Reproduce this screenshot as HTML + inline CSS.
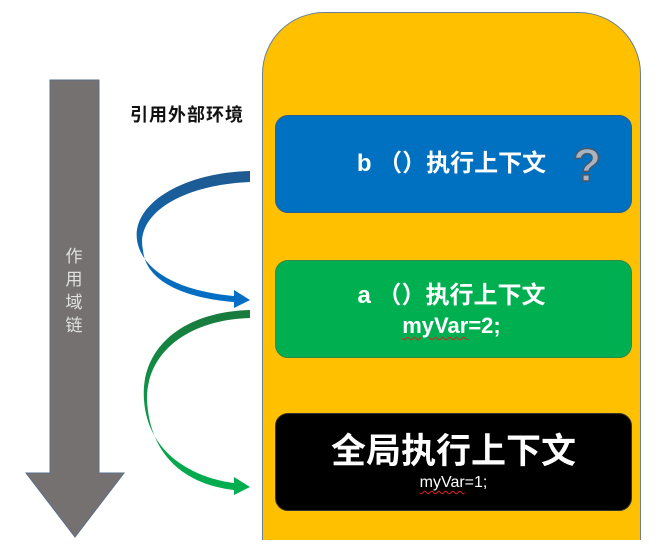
<!DOCTYPE html>
<html><head><meta charset="utf-8"><style>
body{margin:0;width:670px;height:554px;background:#fff;position:relative;overflow:hidden;font-family:"Liberation Sans","Noto Sans CJK SC",sans-serif}
.abs{position:absolute}
.cont{left:262px;top:12px;width:379px;height:528px;background:#ffc000;border:1px solid #6a7f9a;border-bottom:none;border-radius:62px 62px 0 0;box-sizing:border-box}
.box{left:275px;width:357px;height:98px;border-radius:13px;color:#fff;text-align:center;font-weight:bold;box-sizing:border-box}
.wavy{text-decoration:underline wavy #e02020;text-decoration-thickness:1px;text-underline-offset:3px}
</style></head><body>
<div class="abs cont"></div>
<div class="abs box" style="top:115px;background:#0070c0;border:1px solid #2a5d8f;font-size:24px;line-height:96px;padding-right:4px">b （）执行上下文</div>
<div class="abs" style="left:573px;top:138px;font-size:46px;font-weight:bold;color:#a9b4c2;-webkit-text-stroke:1.5px #4a5868;font-family:'Liberation Sans',sans-serif">?</div>
<div class="abs box" style="top:260px;background:#00b050;border:1px solid #2a8a4a;font-size:24px;line-height:30px;padding-top:20px;padding-right:4px">a （）执行上下文<br><span style="font-size:22px"><span class="wavy">myVar</span>=2;</span></div>
<div class="abs box" style="top:413px;background:#000;border:1px solid #333;padding-top:17px">
<div style="font-size:35px;line-height:42px">全局执行上下文</div>
<div style="font-size:16px;font-weight:normal;line-height:20px"><span class="wavy">myVar</span>=1;</div></div>
<div class="abs" style="left:130px;top:101px;font-size:18px;font-weight:bold;color:#111;letter-spacing:1px">引用外部环境</div>
<svg class="abs" style="left:0;top:0" width="670" height="554">
<defs>
<linearGradient id="gb" x1="0" y1="0" x2="0" y2="1"><stop offset="0" stop-color="#1f5a90"/><stop offset="1" stop-color="#0070c8"/></linearGradient>
<linearGradient id="gg" x1="0" y1="0" x2="0" y2="1"><stop offset="0" stop-color="#1a7a3e"/><stop offset="1" stop-color="#00b050"/></linearGradient>
</defs>
<polygon points="50,80 99,80 99,473 124,473 75,537 26,473 50,473" fill="#767171" stroke="#5a6f8c" stroke-width="1"/>
<text x="74" y="262" font-size="17" fill="#e0e0e0" text-anchor="middle" font-family="Noto Sans CJK SC,sans-serif">作</text>
<text x="74" y="285" font-size="17" fill="#e0e0e0" text-anchor="middle" font-family="Noto Sans CJK SC,sans-serif">用</text>
<text x="74" y="308" font-size="17" fill="#e0e0e0" text-anchor="middle" font-family="Noto Sans CJK SC,sans-serif">域</text>
<text x="74" y="331" font-size="17" fill="#e0e0e0" text-anchor="middle" font-family="Noto Sans CJK SC,sans-serif">链</text>
<path d="M250,171 C175,173 125,210 139,248 C152,282 200,293 234,296 L234,290 L250,300 L234,308 L234,302 C195,299 146,286 143,250 C135,215 180,185 250,182 Z" fill="url(#gb)"/>
<path d="M250,310 C180,312 140,350 144,400 C148,455 195,478 234,483 L234,477 L250,487 L234,495 L234,490 C190,485 150,460 147,400 C146,355 185,320 250,318 Z" fill="url(#gg)"/>
</svg>
</body></html>
